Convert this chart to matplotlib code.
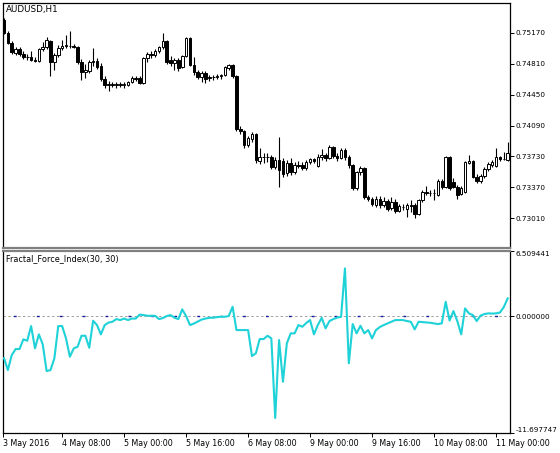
import matplotlib
matplotlib.use("Agg")
import matplotlib.pyplot as plt
from matplotlib.patches import Rectangle
import numpy as np

SYMBOL = "AUDUSD,H1"
INDICATOR = "Fractal_Force_Index(30, 30)"

# H1 bars, 3 May 17:00 .. 11 May 03:00
open_ = [
    0.75318, 0.75167, 0.75050, 0.74934, 0.74981, 0.74923, 0.74888, 0.74888, 0.74853, 0.74841,
    0.74981, 0.75004, 0.75073, 0.74829, 0.74911, 0.74992, 0.75015, 0.75015, 0.75015, 0.75004,
    0.74829, 0.74713, 0.74725, 0.74829, 0.74841, 0.74783, 0.74632, 0.74562, 0.74574, 0.74562,
    0.74574, 0.74562, 0.74562, 0.74597, 0.74643, 0.74643, 0.74585, 0.74876, 0.74923, 0.74911,
    0.74957, 0.75004, 0.75073, 0.74853, 0.74818, 0.74853, 0.74771, 0.74899, 0.75109, 0.74795,
    0.74713, 0.74655, 0.74702, 0.74643, 0.74655, 0.74655, 0.74667, 0.74678, 0.74760, 0.74795,
    0.74667, 0.74050, 0.74026, 0.73863, 0.73933, 0.73991, 0.73677, 0.73724, 0.73724, 0.73724,
    0.73608, 0.73689, 0.73677, 0.73538, 0.73654, 0.73549, 0.73631, 0.73631, 0.73596, 0.73666,
    0.73701, 0.73619, 0.73724, 0.73747, 0.73712, 0.73840, 0.73735, 0.73712, 0.73805, 0.73724,
    0.73631, 0.73363, 0.73549, 0.73596, 0.73258, 0.73235, 0.73165, 0.73235, 0.73165, 0.73212,
    0.73130, 0.73200, 0.73095, 0.73142, 0.73119, 0.73165, 0.73165, 0.73061, 0.73223, 0.73317,
    0.73305, 0.73305, 0.73282, 0.73445, 0.73375, 0.73724, 0.73433, 0.73375, 0.73293, 0.73317,
    0.73654, 0.73677, 0.73491, 0.73445, 0.73503, 0.73584, 0.73631, 0.73619, 0.73724, 0.73701,
    0.73689,
]
high = [
    0.75341, 0.75190, 0.75073, 0.75004, 0.75004, 0.74957, 0.74923, 0.74957, 0.74888, 0.74992,
    0.75062, 0.75120, 0.75085, 0.74934, 0.75027, 0.75085, 0.75144, 0.75190, 0.75039, 0.75015,
    0.74864, 0.74806, 0.74853, 0.74992, 0.74876, 0.74818, 0.74667, 0.74608, 0.74597, 0.74597,
    0.74597, 0.74597, 0.74608, 0.74667, 0.74667, 0.74667, 0.74888, 0.74946, 0.74957, 0.74981,
    0.75015, 0.75167, 0.75085, 0.74899, 0.74876, 0.74876, 0.74911, 0.75120, 0.75120, 0.74888,
    0.74736, 0.74725, 0.74725, 0.74678, 0.74678, 0.74690, 0.74690, 0.74783, 0.74806, 0.74806,
    0.74678, 0.74085, 0.74038, 0.73968, 0.74015, 0.74003, 0.73829, 0.73770, 0.73770, 0.73747,
    0.73724, 0.73957, 0.73712, 0.73689, 0.73712, 0.73666, 0.73677, 0.73666, 0.73689, 0.73712,
    0.73712, 0.73759, 0.73817, 0.73770, 0.73863, 0.73852, 0.73770, 0.73829, 0.73829, 0.73747,
    0.73643, 0.73561, 0.73619, 0.73608, 0.73282, 0.73258, 0.73270, 0.73270, 0.73258, 0.73235,
    0.73258, 0.73235, 0.73177, 0.73177, 0.73189, 0.73223, 0.73189, 0.73235, 0.73340, 0.73386,
    0.73340, 0.73351, 0.73468, 0.73468, 0.73735, 0.73735, 0.73479, 0.73398, 0.73386, 0.73677,
    0.73747, 0.73689, 0.73526, 0.73526, 0.73608, 0.73666, 0.73689, 0.73829, 0.73735, 0.73782,
    0.73898,
]
low = [
    0.75155, 0.75039, 0.74923, 0.74911, 0.74899, 0.74864, 0.74853, 0.74841, 0.74829, 0.74829,
    0.74957, 0.74981, 0.74667, 0.74736, 0.74888, 0.74969, 0.74992, 0.74992, 0.74992, 0.74806,
    0.74620, 0.74643, 0.74702, 0.74783, 0.74748, 0.74608, 0.74527, 0.74492, 0.74539, 0.74527,
    0.74539, 0.74527, 0.74550, 0.74585, 0.74608, 0.74574, 0.74574, 0.74829, 0.74876, 0.74888,
    0.74934, 0.74981, 0.74806, 0.74783, 0.74736, 0.74725, 0.74760, 0.74888, 0.74783, 0.74678,
    0.74632, 0.74597, 0.74585, 0.74608, 0.74620, 0.74632, 0.74632, 0.74667, 0.74736, 0.74643,
    0.74026, 0.73991, 0.73829, 0.73840, 0.73898, 0.73654, 0.73643, 0.73654, 0.73666, 0.73584,
    0.73584, 0.73375, 0.73491, 0.73503, 0.73514, 0.73526, 0.73596, 0.73573, 0.73573, 0.73643,
    0.73654, 0.73608, 0.73689, 0.73677, 0.73701, 0.73712, 0.73677, 0.73701, 0.73689, 0.73596,
    0.73340, 0.73340, 0.73514, 0.73235, 0.73212, 0.73154, 0.73142, 0.73130, 0.73142, 0.73095,
    0.73107, 0.73072, 0.73084, 0.73107, 0.73026, 0.73084, 0.73014, 0.73049, 0.73200, 0.73282,
    0.73270, 0.73223, 0.73270, 0.73351, 0.73363, 0.73340, 0.73363, 0.73235, 0.73282, 0.73305,
    0.73643, 0.73479, 0.73421, 0.73421, 0.73479, 0.73561, 0.73608, 0.73608, 0.73677, 0.73689,
    0.73677,
]
close = [
    0.75167, 0.75050, 0.74946, 0.74981, 0.74923, 0.74888, 0.74885, 0.74853, 0.74841, 0.74981,
    0.75004, 0.75085, 0.74829, 0.74911, 0.74992, 0.75015, 0.75027, 0.75012, 0.75004, 0.74829,
    0.74713, 0.74736, 0.74829, 0.74841, 0.74771, 0.74632, 0.74562, 0.74574, 0.74562, 0.74574,
    0.74562, 0.74574, 0.74597, 0.74643, 0.74632, 0.74585, 0.74876, 0.74923, 0.74911, 0.74957,
    0.75004, 0.75073, 0.74829, 0.74818, 0.74853, 0.74760, 0.74899, 0.75109, 0.74795, 0.74713,
    0.74655, 0.74702, 0.74632, 0.74655, 0.74652, 0.74667, 0.74678, 0.74771, 0.74795, 0.74667,
    0.74050, 0.74026, 0.73863, 0.73945, 0.73991, 0.73689, 0.73724, 0.73721, 0.73727, 0.73608,
    0.73689, 0.73573, 0.73526, 0.73654, 0.73549, 0.73631, 0.73619, 0.73596, 0.73666, 0.73701,
    0.73677, 0.73724, 0.73747, 0.73712, 0.73840, 0.73735, 0.73712, 0.73805, 0.73724, 0.73631,
    0.73363, 0.73549, 0.73596, 0.73258, 0.73235, 0.73177, 0.73235, 0.73165, 0.73212, 0.73119,
    0.73200, 0.73095, 0.73154, 0.73139, 0.73165, 0.73154, 0.73061, 0.73223, 0.73317, 0.73305,
    0.73308, 0.73302, 0.73445, 0.73375, 0.73724, 0.73363, 0.73375, 0.73282, 0.73363, 0.73666,
    0.73677, 0.73491, 0.73445, 0.73503, 0.73584, 0.73643, 0.73666, 0.73724, 0.73701, 0.73698,
    0.73770,
]
ffi = [
    -4.2, -5.4, -3.9, -3.3, -3.3, -2.33, -2.47, -1.0, -3.23, -1.83,
    -2.83, -5.5, -5.4, -4.23, -1.0, -1.0, -2.23, -4.07, -3.23, -3.07,
    -1.97, -1.97, -3.17, -0.47, -0.9, -1.83, -0.9, -0.65, -0.57, -0.3,
    -0.4, -0.25, -0.4, -0.25, -0.25, 0.15, 0.1, 0.03, 0.03, 0.03,
    -0.3, -0.2, 0.0, 0.1, -0.17, -0.3, 0.67, 0.0, -0.9, -0.75,
    -0.55, -0.35, -0.25, -0.17, -0.17, -0.1, -0.07, -0.07, 0.0, 0.93,
    -1.4, -1.4, -1.4, -1.4, -4.0, -3.73, -2.3, -2.3, -1.97, -2.23,
    -10.2, -2.4, -6.57, -2.73, -1.73, -1.73, -0.9, -1.07, -0.7, -0.4,
    -1.83, -0.9, -0.17, -1.23, -0.5, -0.3, -0.15, -0.07, 4.77, -4.73,
    -0.8, -1.73, -0.97, -1.73, -1.4, -2.23, -1.4, -1.1, -0.9, -0.73,
    -0.55, -0.4, -0.4, -0.4, -0.5, -0.57, -1.33, -0.57, -0.6, -0.63,
    -0.67, -0.73, -0.8, -0.73, 1.43, -0.45, 0.5, -0.5, -1.83, 0.77,
    0.27, 0.1, -0.5, 0.05, 0.2, 0.27, 0.25, 0.27, 0.35, 0.9,
    1.77,
]

time_labels = ["3 May 2016", "4 May 08:00", "5 May 00:00", "5 May 16:00", "6 May 08:00",
               "9 May 00:00", "9 May 16:00", "10 May 08:00", "11 May 00:00"]
time_label_bars = [15, 31, 47, 63, 79, 95, 111, 127]
price_ticks = [0.75170, 0.74810, 0.74450, 0.74090, 0.73730, 0.73370, 0.73010]
price_lim = (0.72665, 0.75516)
ffi_lim = (-11.697747, 6.509441)
bar_lim = (-0.26, 130.6)

W, H = 560, 453
plt.rcParams["font.family"] = ["DejaVu Sans"]
plt.rcParams["font.size"] = 5.8

fig = plt.figure(figsize=(W / 100, H / 100), dpi=100)
fig.patch.set_facecolor("white")


def _box(x0, y0, x1, y1):
    # pixel box -> figure fraction
    return [x0 / W, 1 - y1 / H, (x1 - x0) / W, (y1 - y0) / H]


ax1 = fig.add_axes(_box(3, 3, 510, 248))
ax2 = fig.add_axes(_box(3, 251, 510, 433))

for ax in (ax1, ax2):
    ax.set_xlim(*bar_lim)
    ax.yaxis.tick_right()
    ax.tick_params(axis="y", direction="out", length=3, width=0.7, pad=1.2,
                   colors="black", labelsize=5.2)
    for sp in ax.spines.values():
        sp.set_linewidth(0.9)
        sp.set_color("black")

ax1.spines["bottom"].set_color("#808080")
ax1.spines["bottom"].set_linewidth(1.6)
ax2.spines["top"].set_color("#808080")
ax2.spines["top"].set_linewidth(1.6)

# candles
x = np.arange(len(close))
ax1.vlines(x, low, high, color="black", linewidth=0.8, zorder=2)
body_w = 0.66
for xi, o, c in zip(x, open_, close):
    bottom = min(o, c)
    height = max(abs(c - o), 0.000015)
    face = "white" if c >= o else "black"
    ax1.add_patch(Rectangle((xi - body_w / 2, bottom), body_w, height,
                            facecolor=face, edgecolor="black", linewidth=0.7, zorder=3))
ax1.set_ylim(*price_lim)
ax1.set_yticks(price_ticks)
ax1.set_yticklabels([f"{t:.5f}" for t in price_ticks])
ax1.set_xticks([])
ax1.annotate(SYMBOL, xy=(0, 1), xycoords="axes fraction", xytext=(3, -2),
             textcoords="offset pixels", ha="left", va="top", fontsize=6.3)

# indicator
ax2.axhline(0, color="#a0a0a0", linewidth=0.7, linestyle=(0, (2.5, 2.5)), zorder=1)
ax2.axhline(0, color="#1a1aa0", linewidth=1.0, linestyle=(9, (2, 14.5)), zorder=1)
ax2.plot(x, ffi, color="#1ED2D8", linewidth=1.5, zorder=3)
ax2.set_ylim(*ffi_lim)
ax2.set_yticks([ffi_lim[0], 0, ffi_lim[1]])
ax2.set_yticklabels([f"{ffi_lim[0]:.6f}", "0.000000", f"{ffi_lim[1]:.6f}"])
lbls = ax2.get_yticklabels()
lbls[0].set_va("bottom")
lbls[2].set_va("top")
ax2.annotate(INDICATOR, xy=(0, 1), xycoords="axes fraction", xytext=(3, -3),
             textcoords="offset pixels", ha="left", va="top", fontsize=5.9)

xt = [bar_lim[0]] + time_label_bars
ax2.set_xticks(xt)
ax2.set_xticklabels(time_labels)
ax2.tick_params(axis="x", direction="out", length=3, width=0.7, pad=1.5, labelsize=5.7)
for lab in ax2.get_xticklabels():
    lab.set_ha("left")

fig.savefig("out.png", dpi=100)
